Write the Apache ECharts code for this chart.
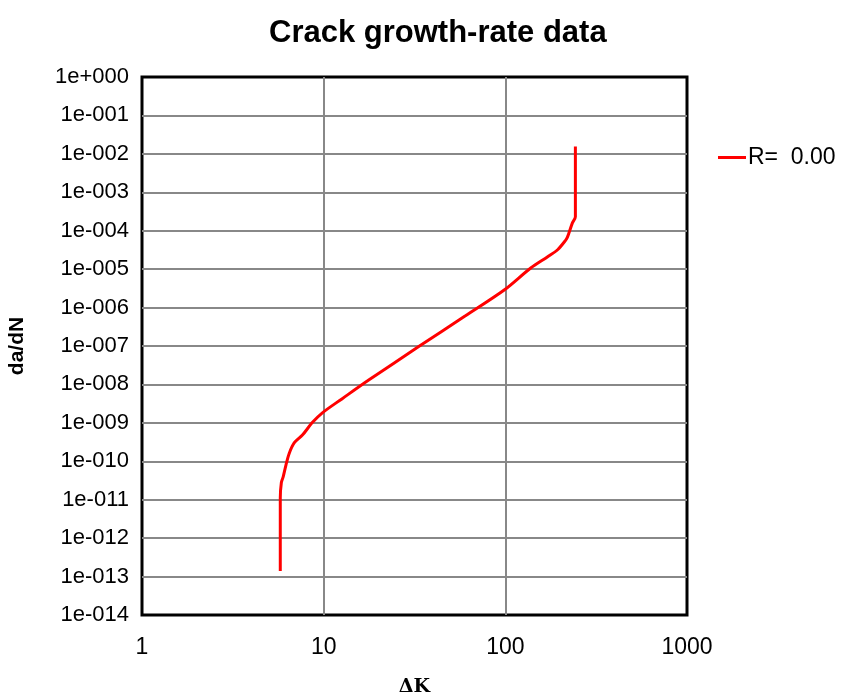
<!DOCTYPE html>
<html>
<head>
<meta charset="utf-8">
<script src="https://cdn.jsdelivr.net/npm/echarts@6/dist/echarts.min.js"></script>
<style>
  html, body { margin: 0; padding: 0; background: #fff; }
  #main { width: 841px; height: 697px; }
</style>
</head>
<body>
<div id="main"></div>
<script>
// crack growth curve: ΔK and da/dN
var deltaK = [5.77, 5.77, 5.85, 5.99, 6.2, 6.46, 6.88, 7.64, 8.63, 9.8, 12.6, 17.7, 33.2, 60, 99, 138, 171, 194, 215, 220, 234, 243, 243];
var dadN = [1.4e-13, 1.1e-11, 2.8e-11, 4e-11, 8e-11, 1.6e-10, 3.0e-10, 4.8e-10, 1.0e-9, 1.8e-9, 4.2e-9, 1.3e-8, 9.5e-8, 6e-7, 2.9e-6, 1.07e-5, 2.1e-5, 3.2e-5, 5.7e-5, 6.9e-5, 1.6e-4, 2.3e-4, 1.55e-2];
var seriesName = 'R=  0.00';

var points = deltaK.map(function (k, i) { return [k, dadN[i]]; });

function expLabel(v) {
  var e = Math.round(Math.log10(v));
  var s = String(Math.abs(e));
  while (s.length < 3) s = '0' + s;
  return '1e' + (e < 0 ? '-' : '+') + s;
}

var chart = echarts.init(document.getElementById('main'));
var option = {
  animation: false,
  title: {
    text: 'Crack growth-rate data',
    left: 264,
    top: 13,
    textStyle: { fontFamily: 'Liberation Sans', fontWeight: 'bold', fontSize: 31, color: '#000' }
  },
  legend: {
    left: 713,
    top: 141,
    data: [{ name: seriesName, icon: 'rect' }],
    itemWidth: 28,
    itemHeight: 3,
    itemGap: 4,
    textStyle: { fontFamily: 'Liberation Sans', fontSize: 23, color: '#000', padding: [0, 0, 0, -3] }
  },
  grid: {
    left: 142,
    top: 77,
    width: 545,
    height: 538,
    outerBoundsMode: 'none',
    show: true,
    borderColor: '#000',
    borderWidth: 3,
    backgroundColor: '#fff'
  },
  xAxis: {
    type: 'log',
    logBase: 10,
    min: 1,
    max: 1000,
    interval: 1,
    name: 'ΔK',
    nameLocation: 'middle',
    nameGap: 63,
    nameTextStyle: { fontFamily: 'DejaVu Serif', fontWeight: 'bold', fontSize: 19, color: '#000' },
    axisLine: { show: false },
    axisTick: { show: false },
    axisLabel: {
      margin: 21,
      fontFamily: 'Liberation Sans',
      fontSize: 23,
      color: '#000',
      formatter: function (v) { return String(Math.round(v)); }
    },
    splitLine: { show: true, showMinLine: false, showMaxLine: false, lineStyle: { color: '#888', width: 2 } }
  },
  yAxis: {
    type: 'log',
    logBase: 10,
    min: 1e-14,
    max: 1,
    interval: 1,
    name: 'da/dN',
    nameLocation: 'middle',
    nameGap: 114,
    nameTextStyle: { fontFamily: 'Liberation Sans', fontWeight: 'bold', fontSize: 21, color: '#000' },
    axisLine: { show: false },
    axisTick: { show: false },
    axisLabel: {
      margin: 13,
      fontFamily: 'Liberation Sans',
      fontSize: 22,
      color: '#000',
      formatter: expLabel
    },
    splitLine: { show: true, showMinLine: false, showMaxLine: false, lineStyle: { color: '#888', width: 2 } }
  },
  series: [{
    name: seriesName,
    type: 'line',
    data: points,
    showSymbol: false,
    smooth: 0.3,
    color: '#ff0000',
    lineStyle: { color: '#ff0000', width: 3 }
  }]
};
chart.setOption(option);
</script>
</body>
</html>
